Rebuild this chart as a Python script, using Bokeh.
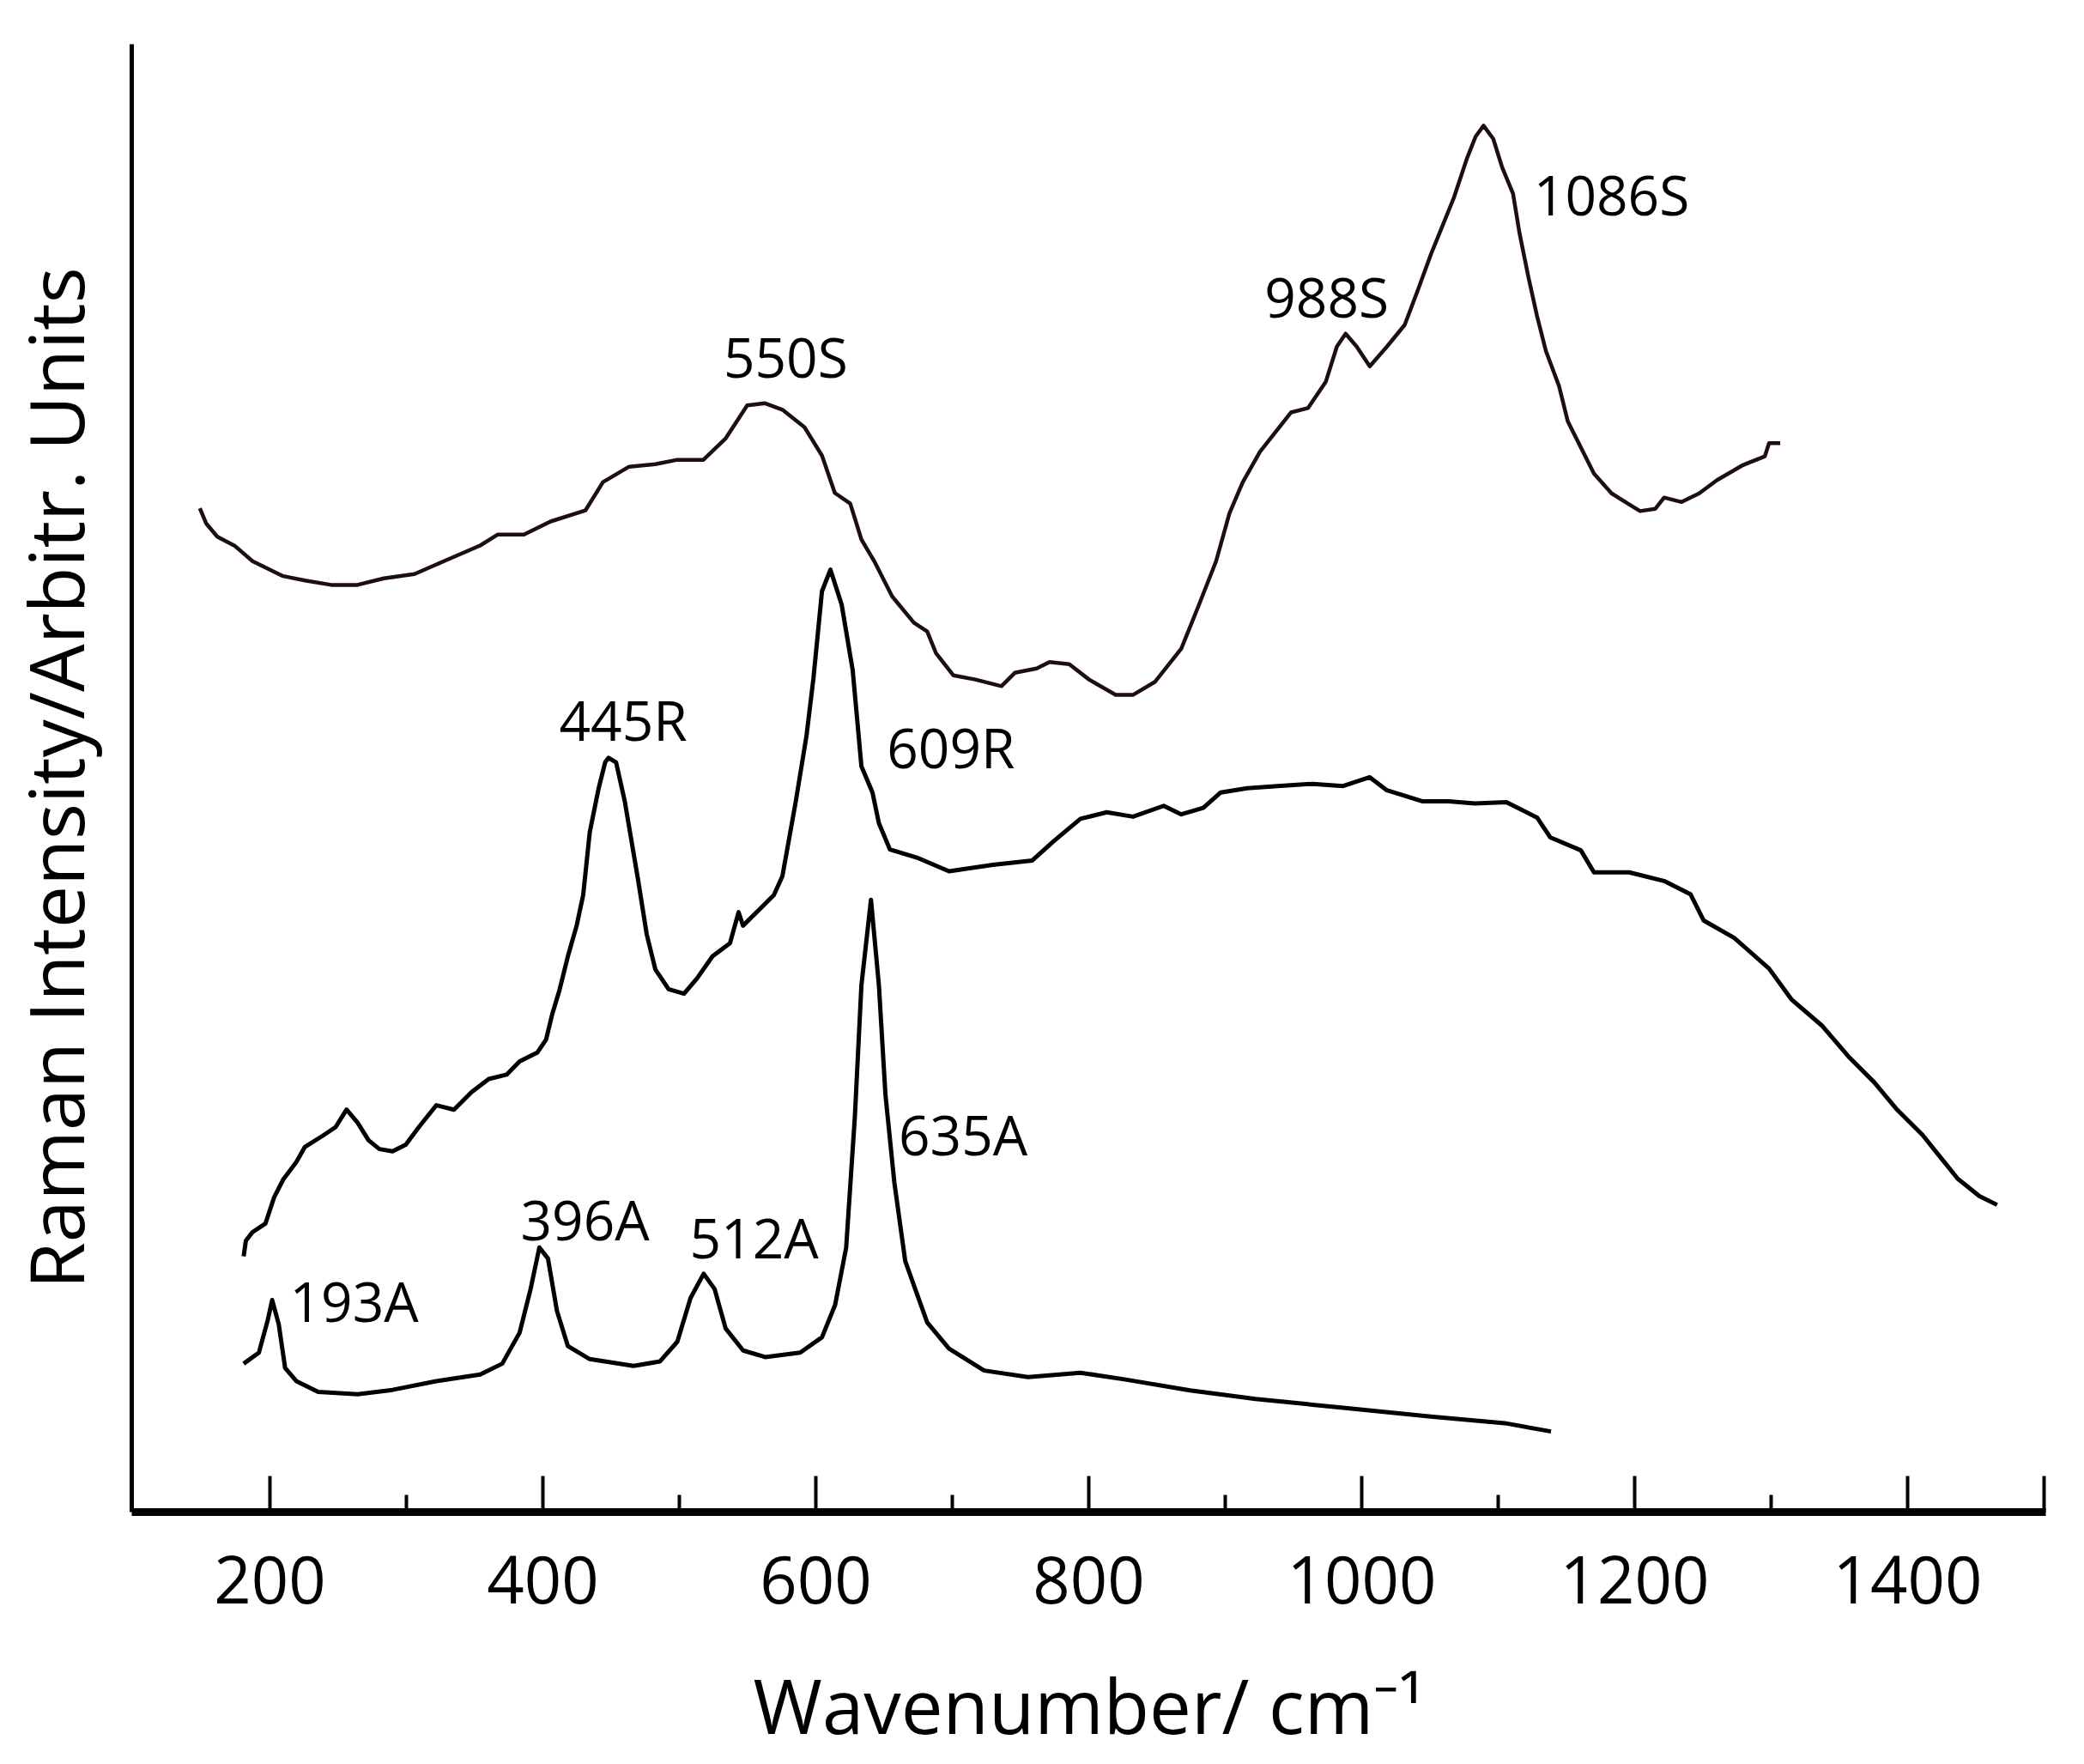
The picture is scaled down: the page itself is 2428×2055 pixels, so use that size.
from bokeh.plotting import figure
from bokeh.models import FixedTicker, Range1d
from bokeh.embed import file_html
from bokeh.resources import INLINE
from bokeh.core.properties import value

# Top spectrum (S)
s_wn = [148.6, 153.2, 161.4, 174.0, 187.2, 209.6, 225.6, 244.9, 264.0, 283.5, 305.9, 328.2, 354.0, 367.0,
        386.1, 405.6, 431.1, 444.0, 463.2, 482.4, 498.5, 517.6, 534.0, 549.7, 562.8, 575.5, 591.7, 604.5,
        613.9, 625.2, 633.4, 642.8, 655.9, 671.8, 681.6, 688.0, 700.7, 716.9, 736.0, 745.8, 761.8, 771.2,
        785.7, 800.2, 819.7, 832.3, 848.6, 867.8, 880.7, 893.3, 903.1, 912.8, 925.4, 948.1, 960.6, 973.7,
        981.8, 988.2, 996.3, 1005.9, 1018.5, 1031.5, 1041.2, 1050.6, 1067.5, 1077.1, 1083.5, 1089.3, 1096.4,
        1102.9, 1110.9, 1115.6, 1122.1, 1128.5, 1135.0, 1144.6, 1151.0, 1160.6, 1170.2, 1183.1, 1196.0,
        1204.0, 1215.2, 1221.6, 1234.4, 1247.3, 1260.2, 1279.4, 1295.4, 1298.5, 1306.7]
s_int = [68.32, 67.29, 66.38, 65.77, 64.71, 63.69, 63.39, 63.09, 63.09, 63.54, 63.83, 64.74, 65.78, 66.53,
         66.53, 67.42, 68.17, 70.11, 71.16, 71.33, 71.63, 71.63, 73.10, 75.35, 75.49, 75.05, 73.85, 71.92,
         69.37, 68.64, 66.19, 64.71, 62.31, 60.51, 59.91, 58.44, 56.92, 56.63, 56.18, 57.09, 57.39, 57.82,
         57.68, 56.63, 55.58, 55.58, 56.48, 58.74, 61.72, 64.71, 67.99, 70.10, 72.17, 74.86, 75.16, 76.96,
         79.36, 80.24, 79.36, 78.01, 79.36, 80.84, 83.23, 85.63, 89.51, 92.20, 93.70, 94.44, 93.54,
         91.60, 89.80, 87.12, 84.13, 81.44, 79.05, 76.66, 74.26, 72.47, 70.69, 69.34, 68.58,
         68.13, 68.29, 69.05, 68.75, 69.34, 70.23, 71.27, 71.87, 72.77, 72.77]

# Middle spectrum (R)
r_wn = [180.7, 182.3, 187.1, 196.7, 203.1, 209.6, 219.3, 225.6, 238.5, 248.1, 256.1, 264.2, 272.2, 280.2,
        289.8, 299.5, 309.1, 321.9, 334.8, 347.7, 360.3, 373.4, 382.9, 395.8, 402.3, 407.0, 411.9, 418.3,
        424.7, 429.5, 434.3, 440.8, 445.6, 448.1, 453.6, 460.0, 469.8, 476.1, 482.4, 492.1, 503.4, 513.0,
        524.3, 537.1, 543.4, 546.6, 559.6, 569.2, 575.5, 585.3, 593.1, 598.2, 604.5, 610.7, 618.9, 627.0,
        633.4, 641.5, 646.2, 654.3, 675.1, 697.6, 729.7, 758.6, 774.7, 793.9, 813.2, 832.4, 854.9, 867.8,
        883.9, 896.7, 916.0, 938.4, 964.1, 986.4, 1005.9, 1018.5, 1044.3, 1063.7, 1082.9, 1106.0, 1128.5,
        1138.1, 1160.6, 1170.2, 1196.0, 1221.6, 1240.9, 1250.5, 1273.0, 1298.5, 1314.8, 1337.2, 1356.5,
        1375.7, 1391.7, 1411.0, 1423.8, 1436.8, 1452.7, 1465.6]
r_int = [17.26, 18.31, 18.90, 19.50, 21.30, 22.49, 23.69, 24.73, 25.48, 26.08, 27.27, 26.38, 25.18, 24.58,
         24.43, 24.88, 26.08, 27.57, 27.27, 28.47, 29.36, 29.66, 30.56, 31.16, 32.05, 33.85, 35.35, 37.74,
         39.83, 41.92, 46.20, 49.19, 50.98, 51.29, 50.98, 48.31, 42.92, 39.22, 36.84, 35.49, 35.19, 36.24,
         37.74, 38.64, 40.75, 39.83, 41.02, 41.92, 43.21, 48.31, 52.76, 56.68, 62.66, 64.13, 61.75, 57.27,
         50.71, 48.92, 46.82, 45.03, 44.44, 43.54, 43.98, 44.28, 45.63, 47.12, 47.57, 47.27, 48.01, 47.43,
         47.87, 48.92, 49.21, 49.36, 49.51, 49.36, 49.96, 49.07, 48.32, 48.32, 48.17, 48.26, 47.21,
         45.86, 44.97, 43.47, 43.47, 42.88, 41.98, 40.19, 38.99, 36.90, 34.81, 33.01, 30.92,
         29.12, 27.33, 25.54, 24.05, 22.55, 21.36, 20.77]

# Bottom spectrum (A)
a_wn = [180.7, 191.9, 198.4, 201.6, 206.4, 211.1, 219.3, 235.3, 264.2, 289.8, 321.9, 354.0, 370.2, 382.9,
        391.0, 397.4, 403.7, 410.3, 418.3, 434.3, 466.4, 485.7, 498.5, 508.2, 517.8, 525.8, 533.9, 546.7,
        562.8, 588.5, 604.5, 614.1, 622.2, 628.6, 633.4, 640.4, 646.2, 651.0, 657.5, 665.5, 681.6, 697.6,
        723.3, 755.5, 793.9, 826.0, 874.2, 922.2, 986.4, 1050.6, 1104.7, 1138.7]
a_int = [9.93, 10.69, 12.92, 14.27, 12.63, 9.64, 8.74, 8.00, 7.84, 8.14, 8.74, 9.19, 9.93, 12.04,
         15.03, 17.86, 17.11, 13.52, 11.13, 10.24, 9.78, 10.08, 11.43, 14.42, 16.07, 15.03, 12.33, 10.83,
         10.38, 10.68, 11.73, 13.94, 17.84, 26.80, 35.77, 41.59, 35.77, 28.29, 22.31, 16.93, 12.74, 10.95,
         9.46, 9.01, 9.31, 8.86, 8.11, 7.52, 6.92, 6.32, 5.87, 5.30]

# Peak annotations
lab_text = ["550S", "988S", "1086S", "445R", "609R", "193A", "396A", "512A", "635A"]
lab_wn = [532.3, 928.8, 1126.0, 411.9, 652.0, 214.4, 383.6, 507.5, 660.7]
lab_int = [77.60, 81.74, 88.67, 52.84, 50.94, 13.16, 18.75, 17.47, 24.55]

major_ticks = [200, 400, 600, 800, 1000, 1200, 1400, 1500]
minor_ticks = [300, 500, 700, 900, 1100, 1300]

FONT = "Open Sans"

p = figure(frame_width=2230, frame_height=1710,
           min_border_left=144, min_border_right=38, min_border_top=51, min_border_bottom=278,
           x_range=Range1d(98.7, 1501.3), y_range=Range1d(-0.2, 100),
           output_backend="svg", toolbar_location=None)
p.background_fill_color = "white"
p.border_fill_color = "white"
p.outline_line_color = None
p.xgrid.visible = False
p.ygrid.visible = False

p.line(s_wn, s_int, line_color="#1e0f0f", line_width=4.5, line_join="round")
p.line(r_wn, r_int, line_color="black", line_width=5, line_join="round")
p.line(a_wn, a_int, line_color="black", line_width=5, line_join="round")

p.text(x=lab_wn, y=lab_int, text=lab_text, text_font=value(FONT), text_font_size="64px",
       text_align="left", text_baseline="alphabetic", text_color="black", y_offset=-18)

xa = p.xaxis[0]
xa.ticker = FixedTicker(ticks=major_ticks, minor_ticks=minor_ticks)
xa.major_label_overrides = {1500: ""}
xa.axis_line_width = 9
xa.axis_line_color = "black"
xa.major_tick_in = 42
xa.major_tick_out = 0
xa.minor_tick_in = 20
xa.minor_tick_out = 0
xa.major_tick_line_width = 4
xa.minor_tick_line_width = 4
xa.major_tick_line_color = "black"
xa.minor_tick_line_color = "black"
xa.major_label_text_font = FONT
xa.major_label_text_font_size = "76px"
xa.major_label_text_color = "black"
xa.major_label_standoff = 50
xa.axis_label = "Wavenumber/ cm\u207b\u00b9"
xa.axis_label_text_font = FONT
xa.axis_label_text_font_size = "87px"
xa.axis_label_text_font_style = "normal"
xa.axis_label_text_color = "black"
xa.axis_label_standoff = 56

ya = p.yaxis[0]
ya.ticker = FixedTicker(ticks=[])
ya.major_tick_in = 0
ya.major_tick_out = 0
ya.minor_tick_in = 0
ya.minor_tick_out = 0
ya.major_label_standoff = 0
ya.axis_line_width = 5
ya.axis_line_color = "black"
ya.axis_label = "Raman Intensity/Arbitr. Units"
ya.axis_label_text_font = FONT
ya.axis_label_text_font_size = "88px"
ya.axis_label_text_font_style = "normal"
ya.axis_label_text_color = "black"
ya.axis_label_standoff = 30

open("out.html", "w").write(file_html(p, INLINE))
